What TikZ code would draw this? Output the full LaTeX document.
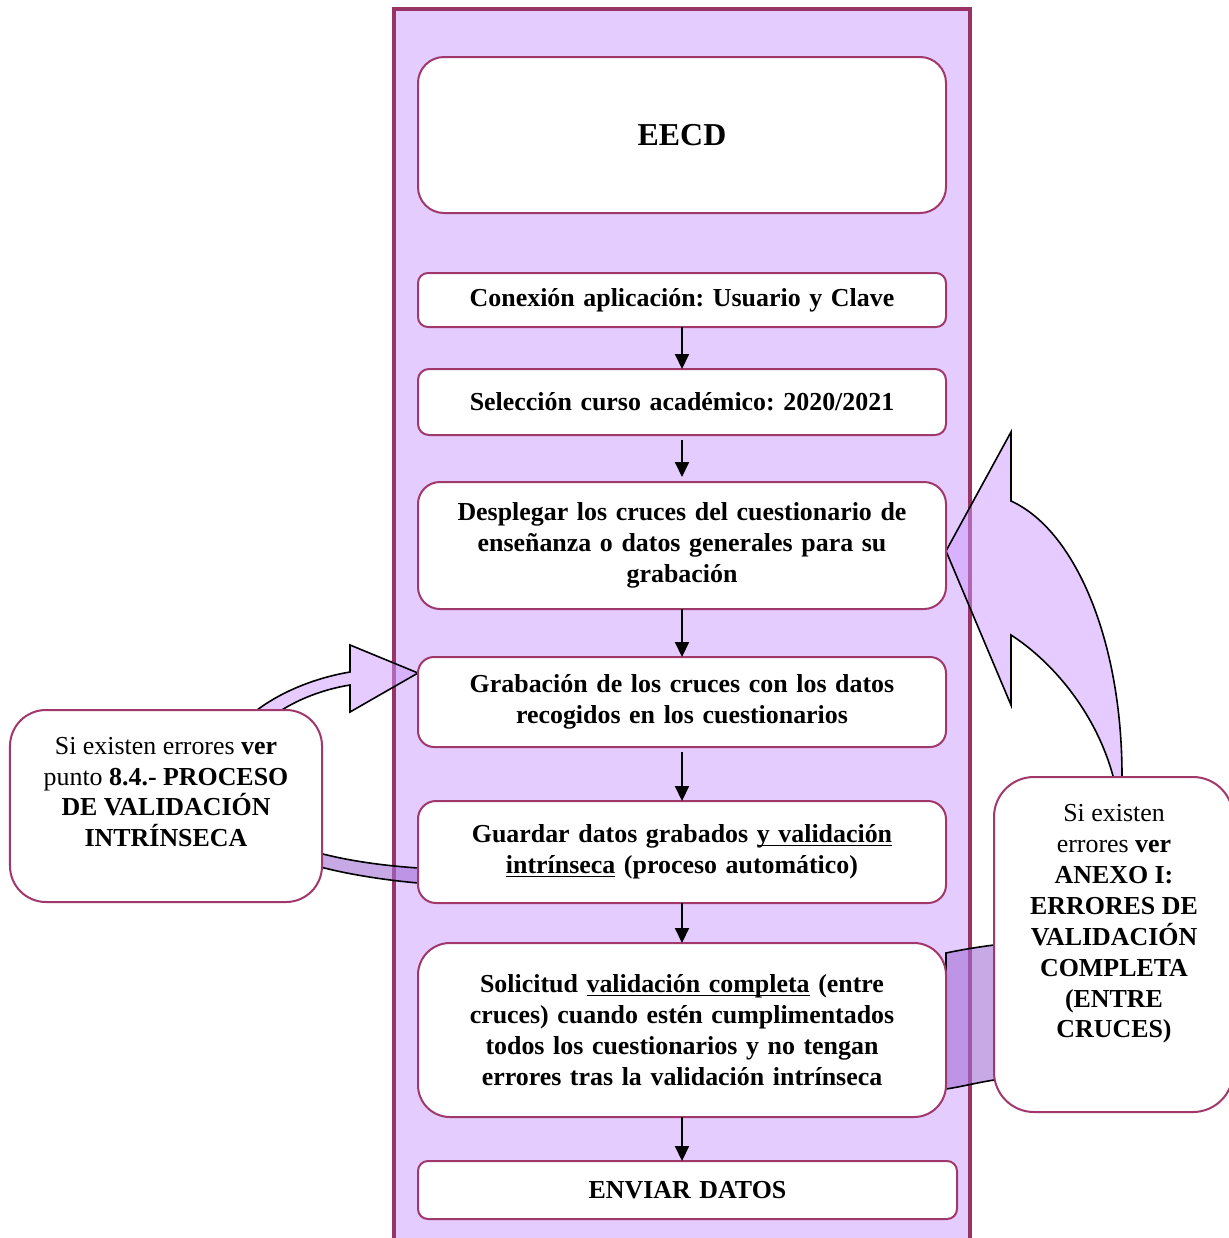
\documentclass[tikz,border=0pt]{standalone}
\usepackage{fontspec}
\setmainfont{Liberation Serif}
\usetikzlibrary{arrows.meta}
\definecolor{colfill}{HTML}{E5CCFF}
\definecolor{colborder}{HTML}{993366}
\definecolor{boxborder}{HTML}{A0386C}
\definecolor{arrfront}{HTML}{CC99FF}
\definecolor{arrback}{HTML}{A370D6}
\frenchspacing
\newcommand\mainf{\fontsize{26}{31}\selectfont\bfseries\frenchspacing}
\newcommand\callf{\fontsize{26}{31}\selectfont\frenchspacing}
\newcommand\mkul[1]{\leavevmode\setbox0\hbox{#1}\rlap{\rule[-3.5bp]{\wd0}{1.4bp}}\box0\relax}
\begin{document}
\begin{tikzpicture}[x=1bp,y=-1bp,
  mainbox/.style={draw=boxborder, line width=2bp, fill=white, rounded corners=#1,
    minimum width=528bp, inner sep=0pt, outer sep=0pt, text width=510bp, align=center, font=\mainf},
  callbox/.style={draw=boxborder, line width=2bp, fill=white, rounded corners=#1,
    inner sep=0pt, outer sep=0pt},
  calltext/.style={inner sep=0pt, align=center, font=\callf},
  flowarrow/.style={draw=black, line width=2bp, -{Triangle[length=15bp,width=14bp]}},
  curvefront/.style={draw=black, line width=1.6bp, fill=arrfront, fill opacity=0.5, line join=miter},
  curveback/.style={draw=black, line width=1.6bp, fill=arrback, fill opacity=0.6, line join=miter}]
\clip (0,0) rectangle (1229,1238);
\fill[white] (0,0) rectangle (1229,1238);
% main column
\draw[draw=colborder, fill=colfill, line width=3.5bp] (394,9) rectangle (970,1260);
% left curved arrow
\draw[curvefront] (215,785) .. controls (215,720) and (290,682) .. (350,672) -- (350,645) -- (418,673) -- (350,712) -- (350,685) .. controls (300,693) and (235,725) .. (235,785) -- cycle;
\draw[curveback] (215,785) .. controls (215,850) and (330,875) .. (418,883) -- (418,868) .. controls (330,862) and (235,840) .. (235,785) -- cycle;
% right curved arrow
\draw[curvefront] (1122,830) -- (1122,776) .. controls (1122,640) and (1075,530) .. (1011,501) -- (1011,432) -- (946,551) -- (1011,705) -- (1011,635) .. controls (1050,660) and (1095,710) .. (1113,776) -- (1115,830) -- cycle;
\draw[curveback] (1122,830) .. controls (1122,960) and (1070,1070) .. (994,1080) .. controls (975,1083) and (960,1087) .. (946,1089) -- (946,953) .. controls (960,950) and (978,947) .. (994,945) .. controls (1060,935) and (1112,880) .. (1115,830) -- cycle;
% main boxes
\node[mainbox=26bp, minimum height=156bp, font=\fontsize{32}{38}\selectfont\bfseries] (c0) at (682,135) {EECD};
\node[mainbox=10bp, minimum height=54bp] (c1) at (682,300) {Conexión aplicación: Usuario y Clave};
\node[mainbox=11bp, minimum height=66bp] (c2) at (682,402) {Selección curso académico: 2020/2021};
\node[mainbox=22bp, minimum height=127bp] (c3) at (682,545.5) {Desplegar los cruces del cuestionario de\\ enseñanza o datos generales para su\\ grabación};
\node[mainbox=16bp, minimum height=90bp] (c4) at (682,702) {Grabación de los cruces con los datos\\ recogidos en los cuestionarios};
\node[mainbox=18bp, minimum height=102bp] (c5) at (682,852) {Guardar datos grabados \mkul{y validación}\\ \mkul{intrínseca} (proceso automático)};
\node[mainbox=32bp, minimum height=174bp] (c6) at (682,1030) {Solicitud \mkul{validación completa} (entre\\ cruces) cuando estén cumplimentados\\ todos los cuestionarios y no tengan\\ errores tras la validación intrínseca};
\node[mainbox=10bp, minimum height=58bp, minimum width=539bp] (c7) at (687.5,1190) {ENVIAR DATOS};
% flow arrows
\draw[flowarrow] (c1.south) -- (c2.north);
\draw[flowarrow, shorten <=5bp, shorten >=5bp] (c2.south) -- (c3.north);
\draw[flowarrow] (c3.south) -- (c4.north);
\draw[flowarrow, shorten <=5bp] (c4.south) -- (c5.north);
\draw[flowarrow] (c5.south) -- (c6.north);
\draw[flowarrow] (c6.south) -- (c6.south |- c7.north);
% callouts
\node[callbox=36bp, minimum width=312bp, minimum height=192bp] (lc) at (166,806) {};
\node[calltext] (lct) at (166,792) {Si existen errores \textbf{ver}\\ punto \textbf{8.4.- PROCESO}\\ \textbf{DE VALIDACIÓN}\\ \textbf{INTRÍNSECA}};
\node[callbox=40bp, minimum width=239bp, minimum height=335bp] (rc) at (1113.5,944.5) {};
\node[calltext] (rct) at (1114,924) {Si existen\\ errores \textbf{ver}\\ \textbf{ANEXO I:}\\ \textbf{ERRORES DE}\\ \textbf{VALIDACIÓN}\\ \textbf{COMPLETA}\\ \textbf{(ENTRE}\\ \textbf{CRUCES)}};
\end{tikzpicture}
\end{document}
